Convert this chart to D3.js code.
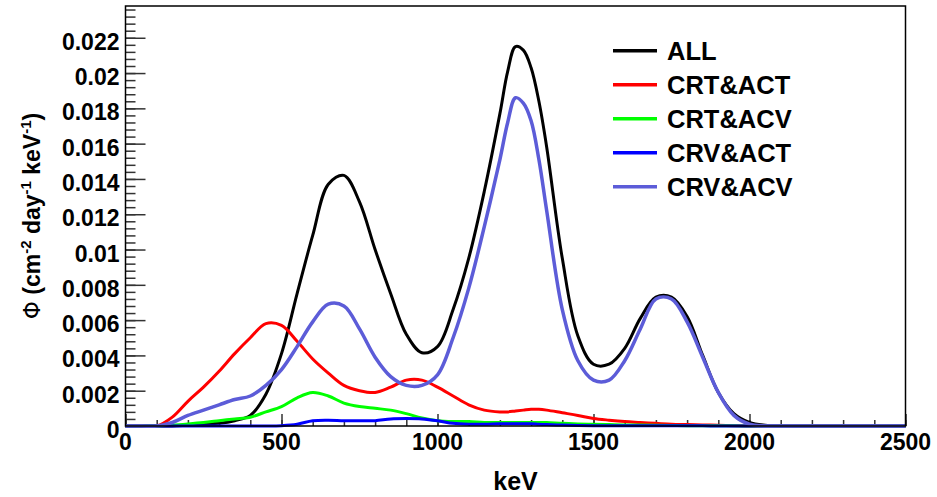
<!DOCTYPE html>
<html>
<head>
<meta charset="utf-8">
<script src="https://cdn.jsdelivr.net/npm/d3@7"></script>
<style>
  body { margin: 0; background: #fff; }
  svg { font-family: "Liberation Sans", Arial, sans-serif; font-weight: bold; }
</style>
</head>
<body>
<svg id="chart" width="937" height="497"></svg>
<script>
// energies (keV) shared by every curve
const energies = [0, 50, 100, 150, 200, 250, 300, 350, 400, 450, 500, 550, 600, 650, 700, 750, 800, 850, 900, 950,
  1000, 1050, 1100, 1150, 1200, 1225, 1250, 1275, 1300, 1325, 1350, 1400, 1450, 1500, 1550, 1600, 1650, 1700, 1750,
  1800, 1850, 1900, 1950, 2000, 2050, 2100, 2500]

const fluxALL = [0, 0, 0, 0, 0.00005, 0.0001, 0.00015, 0.0003, 0.0006, 0.0018, 0.0041, 0.0075, 0.0108, 0.0137, 0.0142,
  0.0127, 0.0100, 0.0075, 0.0052, 0.00415, 0.0045, 0.0066, 0.0095, 0.0133, 0.0177, 0.0201, 0.0215, 0.0213, 0.0203,
  0.0184, 0.0158, 0.0095, 0.0051, 0.0035, 0.0035, 0.0044, 0.0061, 0.0073, 0.0073, 0.0062, 0.0040, 0.0019, 0.0007,
  0.0002, 0.00004, 0, 0]

const fluxCRT_ACT = [0, 0, 0, 0.0005, 0.0014, 0.0022, 0.0031, 0.0041, 0.0050, 0.0058, 0.0057, 0.0048, 0.0038, 0.0030,
  0.0023, 0.0020, 0.0019, 0.0022, 0.0026, 0.0026, 0.0022, 0.0017, 0.0012, 0.0009, 0.0008, 0.0008, 0.00085, 0.0009,
  0.00095, 0.00095, 0.0009, 0.00075, 0.0006, 0.00043, 0.00033, 0.00025, 0.0002, 0.00015, 0.0001, 0.00008, 0.00006,
  0.00004, 0.00002, 0, 0, 0, 0]

const fluxCRT_ACV = [0, 0, 0, 0.00005, 0.00012, 0.0002, 0.0003, 0.0004, 0.0005, 0.0008, 0.0011, 0.0016, 0.0019, 0.0017,
  0.0013, 0.0011, 0.0010, 0.0009, 0.0007, 0.00045, 0.0003, 0.00025, 0.00025, 0.0002, 0.0002, 0.0002, 0.0002, 0.0002,
  0.0002, 0.0002, 0.0002, 0.00015, 0.00012, 0.0001, 0.00008, 0.00006, 0.00005, 0.00004, 0.00003, 0.00002, 0.00002,
  0.00001, 0.00001, 0, 0, 0, 0]

const fluxCRV_ACT = [0, 0, 0, 0, 0, 0, 0, 0, 0, 0, 0.00002, 0.0001, 0.0003, 0.00033, 0.0003, 0.0003, 0.0003, 0.0004,
  0.00042, 0.0004, 0.0003, 0.00015, 0.0001, 0.0001, 0.00013, 0.00013, 0.00013, 0.00013, 0.00013, 0.0001, 0.00008,
  0.00005, 0.00003, 0.00002, 0.00002, 0.00002, 0.00002, 0.00001, 0.00001, 0.00001, 0.00001, 0, 0, 0, 0, 0, 0]

const fluxCRV_ACV = [0, 0, 0, 0.0002, 0.0006, 0.0009, 0.0012, 0.0015, 0.0017, 0.0023, 0.0032, 0.0045, 0.0059, 0.0069,
  0.0068, 0.0055, 0.0039, 0.0028, 0.0023, 0.0023, 0.0029, 0.0050, 0.0078, 0.0113, 0.0151, 0.0172, 0.0186, 0.0183,
  0.0173, 0.0151, 0.0122, 0.0066, 0.0037, 0.0026, 0.0026, 0.0037, 0.0055, 0.0072, 0.0072, 0.0059, 0.0039, 0.0019,
  0.0006, 0.0001, 0, 0, 0]

const seriesNames = ["ALL", "CRT&ACT", "CRT&ACV", "CRV&ACT", "CRV&ACV"]
const seriesValues = [fluxALL, fluxCRT_ACT, fluxCRT_ACV, fluxCRV_ACT, fluxCRV_ACV]
const seriesColors = ["#000000", "#ff0000", "#00ff00", "#0000ff", "#5c5cd8"]

const yTicks = [0, 0.002, 0.004, 0.006, 0.008, 0.01, 0.012, 0.014, 0.016, 0.018, 0.02, 0.022]
const xTicks = [0, 500, 1000, 1500, 2000, 2500]

/* Cadre
-------------------------------------------------------------------------------------------------*/
const margin = {top: 6, right: 31.5, bottom: 71, left: 125.5}
const width = 937 - margin.left - margin.right
const height = 497 - margin.top - margin.bottom

const svg = d3.select("#chart")
const g = svg.append("g").attr("transform", "translate(" + margin.left + "," + margin.top + ")")

const x = d3.scaleLinear().domain([0, 2500]).range([0, width])
const y = d3.scaleLinear().domain([0, 0.0238]).range([height, 0])

// Graduations mineures (vers l'intérieur)
g.append("g")
  .call(d3.axisRight(y).tickValues(d3.range(0, 0.0238, 0.0004)).tickSize(10).tickFormat(""))
  .call(a => a.select(".domain").remove())
  .selectAll("line").style("stroke", "#333").style("stroke-width", 1.5)

g.append("g")
  .call(d3.axisRight(y).tickValues(yTicks).tickSize(20).tickFormat(""))
  .call(a => a.select(".domain").remove())
  .selectAll("line").style("stroke", "#333").style("stroke-width", 1.5)

g.append("g")
  .attr("transform", "translate(0," + height + ")")
  .call(d3.axisTop(x).tickValues(d3.range(0, 2501, 100)).tickSize(6).tickFormat(""))
  .call(a => a.select(".domain").remove())
  .selectAll("line").style("stroke", "#333").style("stroke-width", 1.5)

g.append("g")
  .attr("transform", "translate(0," + height + ")")
  .call(d3.axisTop(x).tickValues(xTicks).tickSize(12).tickFormat(""))
  .call(a => a.select(".domain").remove())
  .selectAll("line").style("stroke", "#333").style("stroke-width", 1.5)

// Labels
g.append("g")
  .selectAll("text")
  .data(yTicks)
  .enter()
  .append("text")
  .attr("x", -6)
  .attr("y", d => y(d) + 4)
  .attr("dy", "0.35em")
  .style("text-anchor", "end")
  .style("font-size", "23px")
  .text(d => d3.format("")(d))

g.append("g")
  .selectAll("text")
  .data(xTicks)
  .enter()
  .append("text")
  .attr("x", d => x(d))
  .attr("y", height + 24)
  .style("text-anchor", "middle")
  .style("font-size", "23px")
  .text(d => d)

// Titres des axes
g.append("text")
  .attr("x", width / 2)
  .attr("y", height + 64)
  .style("text-anchor", "middle")
  .style("font-size", "25px")
  .text("keV")

const yTitle = g.append("text")
  .attr("transform", "translate(" + (40 - margin.left) + "," + (height / 2) + ") rotate(-90)")
  .style("text-anchor", "middle")
  .style("font-size", "23px")
yTitle.append("tspan").style("font-family", "DejaVu Sans").style("font-weight", "normal").text("Φ")
yTitle.append("tspan").text(" (cm")
yTitle.append("tspan").attr("dy", -9).style("font-size", "15px").text("-2")
yTitle.append("tspan").attr("dy", 9).text(" day")
yTitle.append("tspan").attr("dy", -9).style("font-size", "15px").text("-1")
yTitle.append("tspan").attr("dy", 9).text(" keV")
yTitle.append("tspan").attr("dy", -9).style("font-size", "15px").text("-1")
yTitle.append("tspan").attr("dy", 9).text(")")

/* Courbes
-------------------------------------------------------------------------------------------------*/
const line = d3.line()
  .x(d => x(d[0]))
  .y(d => y(d[1]))
  .curve(d3.curveCatmullRom.alpha(0.5))

seriesValues.forEach((vals, i) => {
  g.append("path")
    .datum(energies.map((e, k) => [e, vals[k]]))
    .style("fill", "none")
    .style("stroke", seriesColors[i])
    .style("stroke-width", i === 4 ? 3.5 : 3)
    .style("stroke-linejoin", "round")
    .attr("d", line)
})

// Bordure
g.append("rect")
  .attr("width", width)
  .attr("height", height)
  .style("fill", "none")
  .style("stroke", "#000")
  .style("stroke-width", 1.5)

/* Légende
-------------------------------------------------------------------------------------------------*/
const legend = g.append("g")
  .selectAll("g")
  .data(seriesNames)
  .enter()
  .append("g")
  .attr("transform", (d, i) => "translate(" + (613 - margin.left) + "," + (50.7 + i * 34 - margin.top) + ")")

legend.append("line")
  .attr("x1", 0).attr("x2", 44)
  .style("stroke", (d, i) => seriesColors[i])
  .style("stroke-width", 3.5)

legend.append("text")
  .attr("x", 54)
  .attr("dy", "0.36em")
  .style("font-size", "25.5px")
  .text(d => d)
</script>
</body>
</html>
